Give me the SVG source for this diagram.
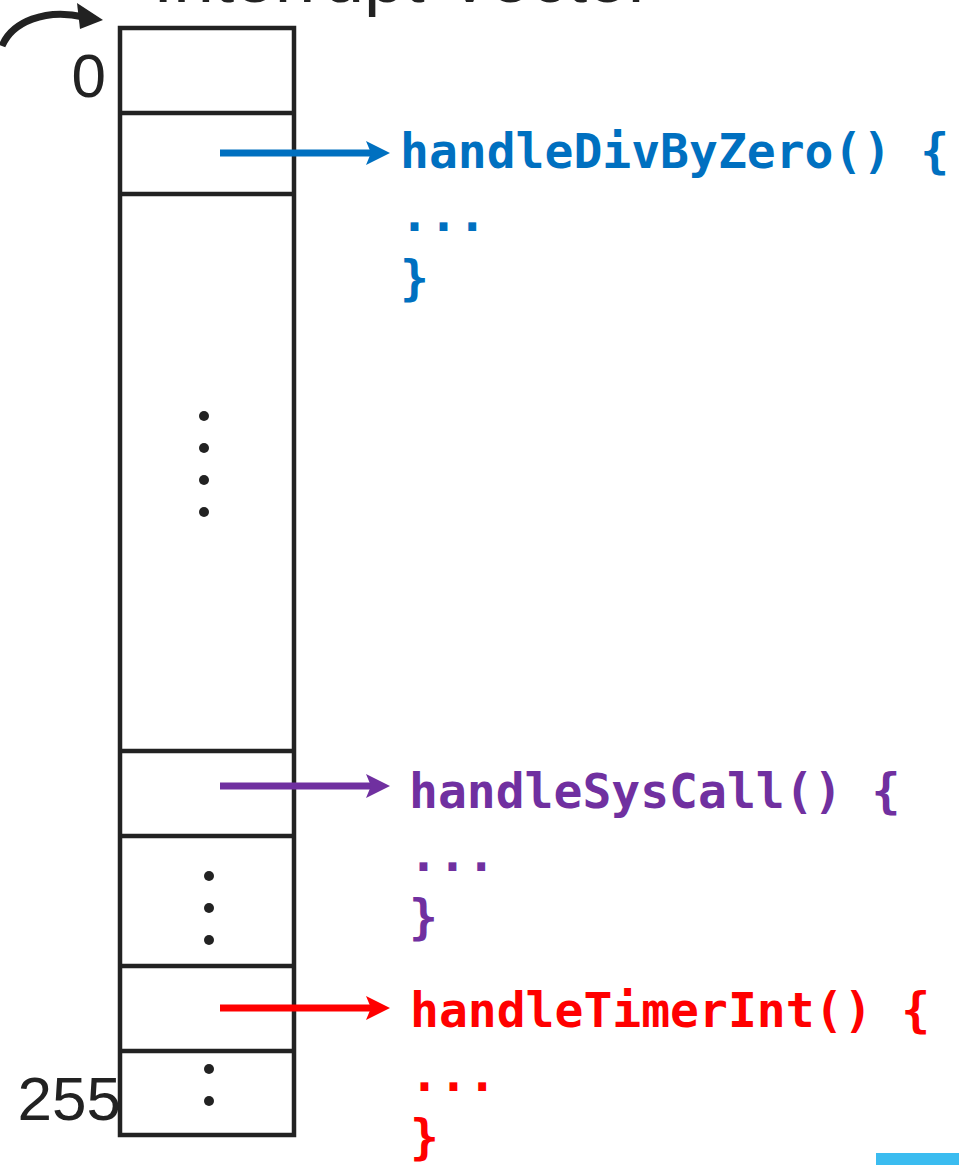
<svg xmlns="http://www.w3.org/2000/svg" width="959" height="1165" viewBox="0 0 959 1165">
  <style>
    .box { fill: #ffffff; stroke: #222222; stroke-width: 4.5; }
    .div { stroke: #222222; stroke-width: 4.5; }
    .dot { fill: #222222; }
    .num { font-family: "Liberation Sans", Arial, sans-serif; font-size: 62px; fill: #222222; }
    .title { font-family: "Liberation Sans", Arial, sans-serif; font-size: 73px; fill: #222222; }
    .code { font-family: "DejaVu Sans Mono", "Liberation Mono", monospace; font-weight: bold; font-size: 48px; }
    .blue { fill: #0070C0; }
    .purple { fill: #7030A0; }
    .red { fill: #FF0000; }
    .conn { stroke-width: 7; fill: none; }
  </style>
  <defs>
    <marker id="ahBlue" markerUnits="userSpaceOnUse" markerWidth="26" markerHeight="26" refX="10" refY="12" orient="auto" viewBox="0 0 26 24">
      <path d="M0,0 L24,12 L0,24 L5,12 Z" fill="#0070C0"/>
    </marker>
    <marker id="ahPurple" markerUnits="userSpaceOnUse" markerWidth="26" markerHeight="26" refX="10" refY="12" orient="auto" viewBox="0 0 26 24">
      <path d="M0,0 L24,12 L0,24 L5,12 Z" fill="#7030A0"/>
    </marker>
    <marker id="ahRed" markerUnits="userSpaceOnUse" markerWidth="26" markerHeight="26" refX="10" refY="12" orient="auto" viewBox="0 0 26 24">
      <path d="M0,0 L24,12 L0,24 L5,12 Z" fill="#FF0000"/>
    </marker>
  </defs>

  <g id="title">
    <text class="title" x="153" y="2">Interrupt Vector</text>
  </g>

  <g id="vector-table">
    <rect class="box" x="120" y="28" width="174" height="1107"/>
    <line class="div" x1="120" y1="113" x2="294" y2="113"/>
    <line class="div" x1="120" y1="194" x2="294" y2="194"/>
    <line class="div" x1="120" y1="751" x2="294" y2="751"/>
    <line class="div" x1="120" y1="836" x2="294" y2="836"/>
    <line class="div" x1="120" y1="966" x2="294" y2="966"/>
    <line class="div" x1="120" y1="1051" x2="294" y2="1051"/>
    <circle class="dot" cx="204" cy="416" r="5"/>
    <circle class="dot" cx="204" cy="448" r="5"/>
    <circle class="dot" cx="204" cy="480" r="5"/>
    <circle class="dot" cx="204" cy="512" r="5"/>
    <circle class="dot" cx="209" cy="876" r="5"/>
    <circle class="dot" cx="209" cy="908" r="5"/>
    <circle class="dot" cx="209" cy="940" r="5"/>
    <circle class="dot" cx="209" cy="1069" r="5"/>
    <circle class="dot" cx="209" cy="1101" r="5"/>
  </g>

  <g id="labels">
    <text class="num" x="106" y="97" text-anchor="end">0</text>
    <text class="num" x="121" y="1120" text-anchor="end">255</text>
  </g>

  <g id="handleDivByZero">
    <text class="code blue" x="400" y="168">handleDivByZero() {</text>
    <text class="code blue" x="400" y="231">...</text>
    <text class="code blue" x="400" y="295">}</text>
  </g>

  <g id="handleSysCall">
    <text class="code purple" x="409" y="808">handleSysCall() {</text>
    <text class="code purple" x="409" y="871">...</text>
    <text class="code purple" x="409" y="934">}</text>
  </g>

  <g id="handleTimerInt">
    <text class="code red" x="410" y="1027">handleTimerInt() {</text>
    <text class="code red" x="410" y="1091">...</text>
    <text class="code red" x="410" y="1154">}</text>
  </g>

  <g id="connectors">
    <path class="conn" d="M2,46 C12,22 45,8 84,17" stroke="#222222" stroke-width="6.5"/>
    <path d="M77,3 L103,20 L80,29 Z" fill="#222222"/>
    <line class="conn" x1="220" y1="153" x2="376" y2="153" stroke="#0070C0" marker-end="url(#ahBlue)"/>
    <line class="conn" x1="220" y1="786" x2="376" y2="786" stroke="#7030A0" marker-end="url(#ahPurple)"/>
    <line class="conn" x1="220" y1="1008" x2="376" y2="1008" stroke="#FF0000" marker-end="url(#ahRed)"/>
  </g>

  <rect x="876" y="1153" width="83" height="12" fill="#3BBCF0"/>
</svg>
